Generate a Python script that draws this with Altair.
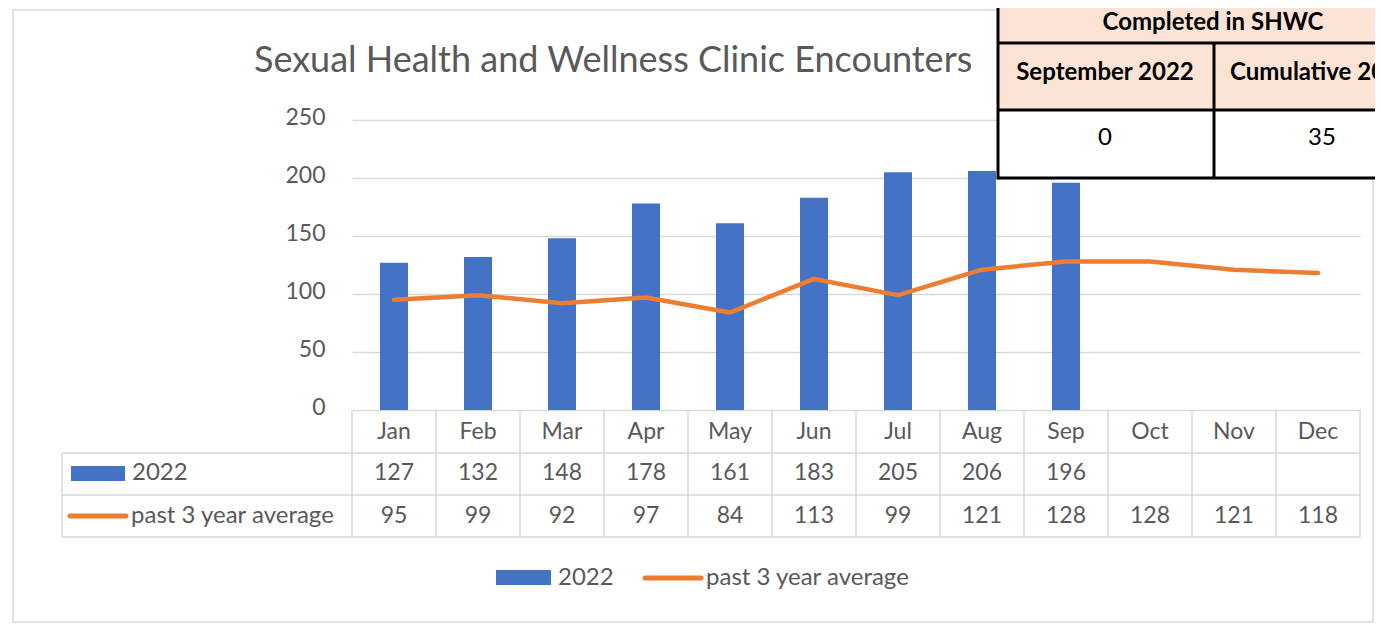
import altair as alt
import pandas as pd

# ---------------- data ----------------
months = ["Jan", "Feb", "Mar", "Apr", "May", "Jun", "Jul", "Aug", "Sep", "Oct", "Nov", "Dec"]
encounters_2022 = [127, 132, 148, 178, 161, 183, 205, 206, 196]
past_3yr_avg = [95, 99, 92, 97, 84, 113, 99, 121, 128, 128, 121, 118]
series_names = ["2022", "past 3 year average"]
title_text = "Sexual Health and Wellness Clinic Encounters"
y_ticks = [0, 50, 100, 150, 200, 250]
box_title = "Completed in SHWC"
box_headers = ["September 2022", "Cumulative 2022"]
box_values = ["0", "35"]

# ---------------- style ----------------
BLUE = "#4472C4"
ORANGE = "#ED7D31"
TEXT = "#595959"
GRID = "#D9D9D9"
PEACH = "#FBE4D5"
FONT = "Lato"
W, H = 1008, 290

bars_df = pd.DataFrame({"month": months[:len(encounters_2022)], "value": encounters_2022})
avg_df = pd.DataFrame({"month": months, "value": past_3yr_avg})
month_df = pd.DataFrame({"month": months})
one = pd.DataFrame({"k": [0]})

xscale = alt.Scale(domain=months, paddingInner=0, paddingOuter=0)
yscale = alt.Scale(domain=[0, 250], nice=False)
yaxis = alt.Axis(values=y_ticks, grid=True, gridColor=GRID, gridWidth=1.5, domain=False,
                 ticks=False, labelFontSize=23, labelColor=TEXT, labelFont=FONT,
                 labelPadding=27, labelOffset=-3, title=None)


def xm(band=0.5):
    return alt.X("month:N", scale=xscale, axis=None, bandPosition=band)


def label(txt):
    return alt.Chart(pd.DataFrame({"t": [txt]}))


def hrule(y, x1, x2, color=GRID, w=1.5):
    return alt.Chart(one).mark_rule(color=color, strokeWidth=w).encode(
        x=alt.value(x1), x2=alt.value(x2), y=alt.value(y))


def vrule(x, y1, y2, color=GRID, w=1.5):
    return alt.Chart(one).mark_rule(color=color, strokeWidth=w).encode(
        x=alt.value(x), y=alt.value(y1), y2=alt.value(y2))


# chart-area frame (outline only)
frame = alt.Chart(one).mark_rect(fillOpacity=0, stroke=GRID, strokeWidth=1.5).encode(
    x=alt.value(-339), x2=alt.value(1021), y=alt.value(-110), y2=alt.value(502))

# title
title = label(title_text).mark_text(font=FONT, fontSize=36, color=TEXT, align="left",
                                    baseline="middle").encode(
    x=alt.value(-98), y=alt.value(-59), text="t:N")

bars = alt.Chart(bars_df).mark_bar(color=BLUE, width=alt.RelativeBandSize(1 / 3)).encode(
    x=xm(), y=alt.Y("value:Q", scale=yscale, axis=yaxis))

line = alt.Chart(avg_df).mark_line(color=ORANGE, strokeWidth=4.5, strokeCap="round",
                                   strokeJoin="round").encode(
    x=xm(0.5), y=alt.Y("value:Q", scale=yscale, axis=yaxis))

# data table grid
col_rules = alt.Chart(month_df).mark_rule(color=GRID, strokeWidth=1.5).encode(
    x=xm(0), y=alt.value(H), y2=alt.value(417))
grid_parts = [
    col_rules,
    vrule(W, H, 417),
    vrule(-290, 333, 417),
    hrule(333, -290, W),
    hrule(375, -290, W),
    hrule(417, -290, W),
]

txt_kw = dict(font=FONT, fontSize=23, color=TEXT, baseline="middle", align="center")
month_txt = alt.Chart(month_df).mark_text(**txt_kw).encode(x=xm(0.5), y=alt.value(312), text="month:N")
row1_txt = alt.Chart(bars_df).mark_text(**txt_kw).encode(x=xm(0.5), y=alt.value(353), text="value:Q")
row2_txt = alt.Chart(avg_df).mark_text(**txt_kw).encode(x=xm(0.5), y=alt.value(396), text="value:Q")

lg_kw = dict(font=FONT, fontSize=24, color=TEXT, baseline="middle", align="left")
# table legend keys
tk_bar = alt.Chart(one).mark_rect(color=BLUE).encode(
    x=alt.value(-281), x2=alt.value(-227), y=alt.value(346), y2=alt.value(361))
tk_bar_t = label(series_names[0]).mark_text(**lg_kw).encode(x=alt.value(-220), y=alt.value(353), text="t:N")
tk_line = alt.Chart(one).mark_rule(color=ORANGE, strokeWidth=5, strokeCap="round").encode(
    x=alt.value(-282), x2=alt.value(-226), y=alt.value(396))
tk_line_t = label(series_names[1]).mark_text(**lg_kw).encode(x=alt.value(-221), y=alt.value(396), text="t:N")

# bottom legend
lg_bar = alt.Chart(one).mark_rect(color=BLUE).encode(
    x=alt.value(144), x2=alt.value(199), y=alt.value(450), y2=alt.value(465))
lg_bar_t = label(series_names[0]).mark_text(**lg_kw).encode(x=alt.value(206), y=alt.value(458), text="t:N")
lg_line = alt.Chart(one).mark_rule(color=ORANGE, strokeWidth=5, strokeCap="round").encode(
    x=alt.value(293), x2=alt.value(349), y=alt.value(458))
lg_line_t = label(series_names[1]).mark_text(**lg_kw).encode(x=alt.value(354), y=alt.value(458), text="t:N")

# overlay box (top right)
box_peach = alt.Chart(one).mark_rect(color=PEACH).encode(
    x=alt.value(646), x2=alt.value(1100), y=alt.value(-130), y2=alt.value(-10))
box_white = alt.Chart(one).mark_rect(color="white").encode(
    x=alt.value(646), x2=alt.value(1100), y=alt.value(-10), y2=alt.value(58))
box_lines = [
    hrule(-77, 646, 1100, "black", 3),
    hrule(-10, 646, 1100, "black", 3),
    hrule(58, 646, 1100, "black", 3),
    vrule(646, -130, 59.5, "black", 3),
    vrule(862, -77, 58, "black", 3),
]
bx_kw = dict(font=FONT, fontSize=24, color="black", baseline="middle", align="center")
bt = label(box_title).mark_text(fontWeight="bold", **bx_kw).encode(x=alt.value(861), y=alt.value(-97), text="t:N")
bh1 = label(box_headers[0]).mark_text(fontWeight="bold", **bx_kw).encode(x=alt.value(753), y=alt.value(-47), text="t:N")
bh2 = label(box_headers[1]).mark_text(fontWeight="bold", font=FONT, fontSize=24, color="black",
                                      baseline="middle", align="left").encode(
    x=alt.value(878), y=alt.value(-47), text="t:N")
bv1 = label(box_values[0]).mark_text(**bx_kw).encode(x=alt.value(753), y=alt.value(18), text="t:N")
bv2 = label(box_values[1]).mark_text(**bx_kw).encode(x=alt.value(970), y=alt.value(18), text="t:N")

chart = alt.layer(
    frame, title, *grid_parts, bars, line, month_txt, row1_txt, row2_txt,
    tk_bar, tk_bar_t, tk_line, tk_line_t, lg_bar, lg_bar_t, lg_line, lg_line_t,
    box_peach, box_white, *box_lines, bt, bh1, bh2, bv1, bv2,
).properties(
    width=W, height=H,
    padding={"left": 344, "top": 112, "right": 15, "bottom": 216},
    autosize=alt.AutoSizeParams(type="none"),
    background="white",
).configure_view(stroke=None)

chart.save("out.html", embed_options={"renderer": "svg", "actions": False})
